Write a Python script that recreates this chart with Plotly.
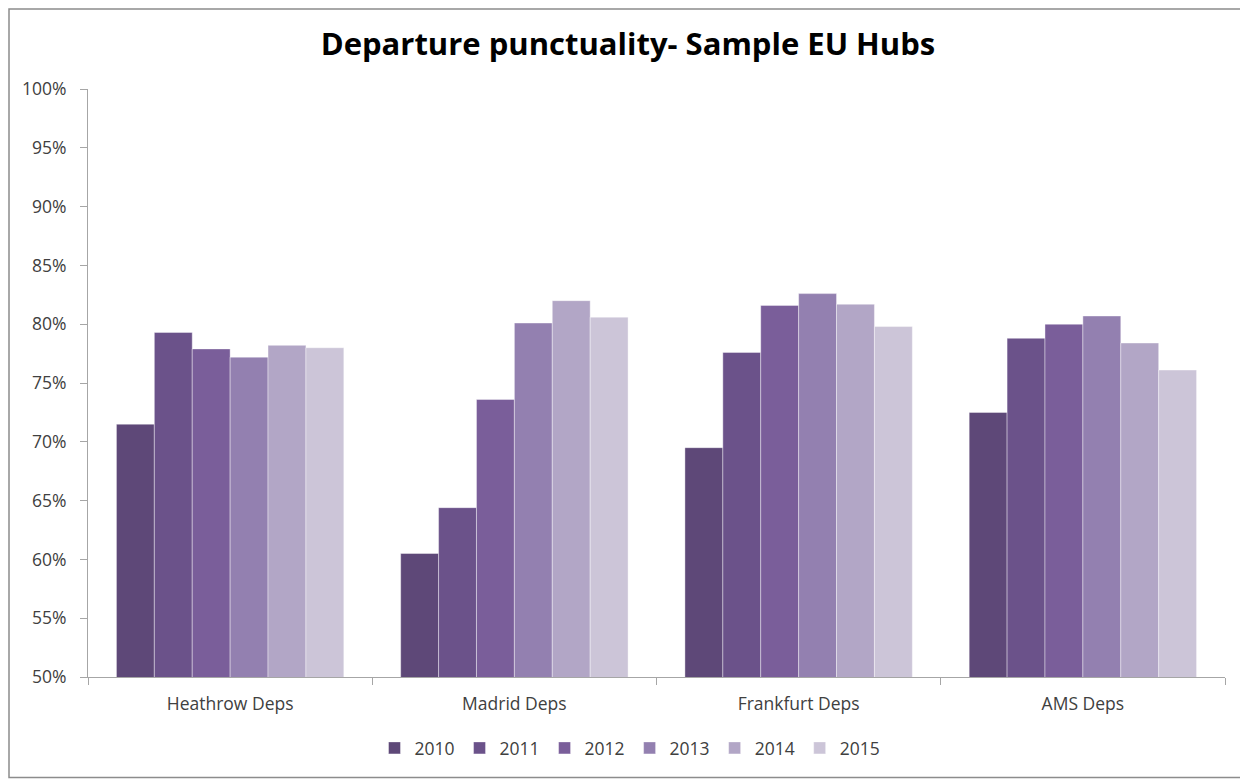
import plotly.graph_objects as go

categories = ["Heathrow Deps", "Madrid Deps", "Frankfurt Deps", "AMS Deps"]
years = ["2010", "2011", "2012", "2013", "2014", "2015"]
values = {
    "2010": [0.715, 0.605, 0.695, 0.725],
    "2011": [0.793, 0.644, 0.776, 0.788],
    "2012": [0.779, 0.736, 0.816, 0.800],
    "2013": [0.772, 0.801, 0.826, 0.807],
    "2014": [0.782, 0.820, 0.817, 0.784],
    "2015": [0.780, 0.806, 0.798, 0.761],
}
colors = ["#5e4878", "#6b528a", "#7a5e9a", "#9380b0", "#b2a6c6", "#ccc5d8"]

# page has an 8px body margin, so the figure is sized to fit the window
W, H = 1240, 773
ml, mr, mt, mb = 80, 23, 81, 104
pw = W - ml - mr
ph = H - mt - mb

fig = go.Figure()
for y, c in zip(years, colors):
    fig.add_trace(go.Bar(
        x=categories, y=values[y], name=y,
        marker=dict(color=c, line=dict(color="rgba(255,255,255,0.5)", width=0.8)),
    ))

fig.add_shape(type="rect", xref="paper", yref="paper",
              x0=-(ml - 1) / pw, x1=1 + (mr - 1.5) / pw,
              y0=-(mb - 3.5) / ph, y1=1 + (mt - 1) / ph,
              line=dict(color="#8c8c8c", width=1.5), fillcolor="rgba(0,0,0,0)", layer="below")

font_fam = "Open Sans, Noto Sans, sans-serif"
fig.update_layout(
    width=W, height=H,
    margin=dict(l=ml, r=mr, t=mt, b=mb, autoexpand=False),
    paper_bgcolor="white", plot_bgcolor="white",
    barmode="group", bargap=0.2, bargroupgap=0,
    font=dict(family=font_fam, color="#404040"),
    title=dict(text="<b>Departure punctuality- Sample EU Hubs</b>",
               x=0.5, xref="container", xanchor="center", y=1 - 36 / H, yanchor="middle",
               font=dict(size=31, color="#000000", family=font_fam)),
    xaxis=dict(showline=True, linecolor="#a6a6a6", linewidth=1,
               ticks="outside", tickson="boundaries", ticklen=7, tickcolor="#a6a6a6",
               ticklabelstandoff=11, tickangle=0, automargin=False,
               tickfont=dict(size=17.5, color="#404040"), showgrid=False),
    yaxis=dict(range=[0.5, 1.0], dtick=0.05, tickformat=".0%",
               showline=True, linecolor="#a6a6a6", linewidth=1,
               ticks="outside", ticklen=7, tickcolor="#a6a6a6",
               ticklabelstandoff=10, automargin=False,
               tickfont=dict(size=17.5, color="#404040"), showgrid=False, zeroline=False),
    legend=dict(orientation="h", x=(630 - 8 - ml) / pw, xanchor="center",
                y=-71 / ph, yanchor="middle",
                font=dict(size=17.5, color="#404040"), traceorder="normal",
                itemwidth=30, tracegroupgap=0),
)

fig.write_html("out.html")
